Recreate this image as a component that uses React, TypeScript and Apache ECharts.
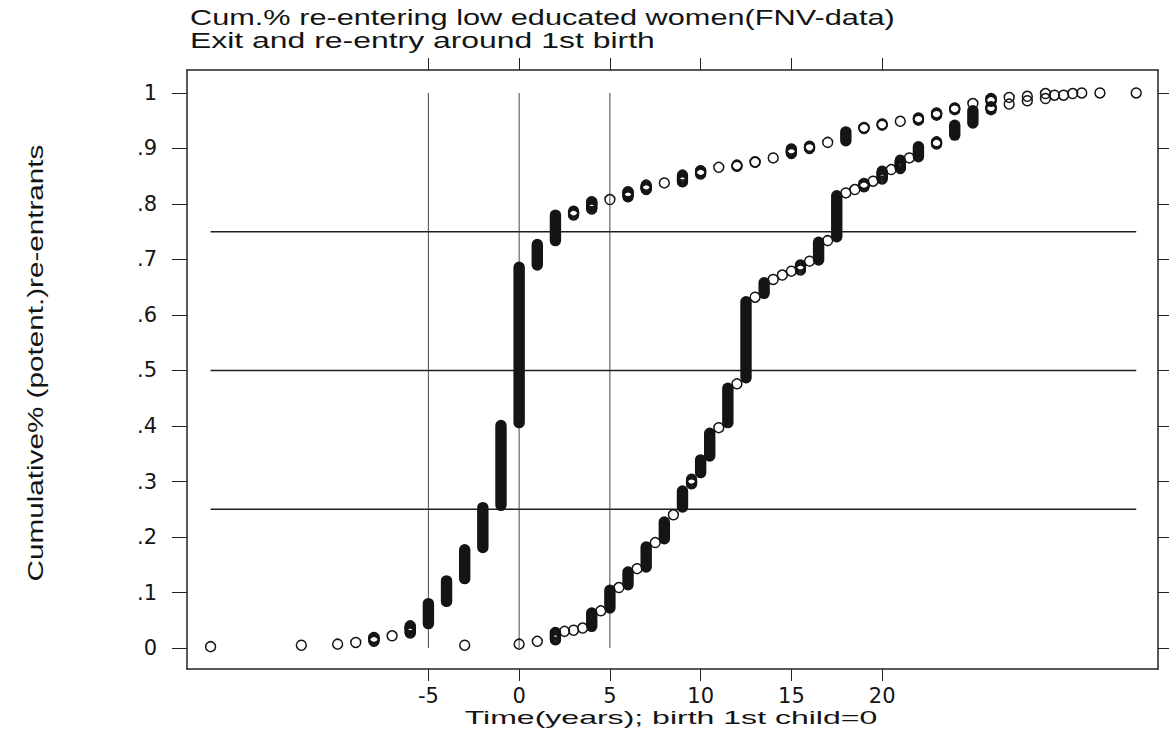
import React, { useEffect, useRef } from "react";
import * as echarts from "echarts";

// Cumulative share by time relative to the first birth.
// Each entry: [years, cum. share of the first case at that time, cum. share of the last case at that time]
const exitStacks: [number, number, number][] = [
  [-17, 0.0025, 0.0025], [-12, 0.005, 0.005], [-10, 0.007, 0.007], [-9, 0.01, 0.01],
  [-8, 0.012, 0.019], [-7, 0.022, 0.022], [-6, 0.027, 0.04], [-5, 0.044, 0.08],
  [-4, 0.084, 0.121], [-3, 0.125, 0.177], [-2, 0.181, 0.253], [-1, 0.257, 0.401],
  [0, 0.406, 0.686], [1, 0.69, 0.727], [2, 0.734, 0.78], [3, 0.78, 0.787],
  [4, 0.791, 0.804], [5, 0.808, 0.808], [6, 0.813, 0.822], [7, 0.826, 0.834],
  [8, 0.838, 0.838], [9, 0.84, 0.852], [10, 0.854, 0.86], [11, 0.866, 0.866],
  [12, 0.868, 0.87], [13, 0.875, 0.876], [14, 0.883, 0.883], [15, 0.891, 0.899],
  [16, 0.9, 0.904], [17, 0.911, 0.911], [18, 0.914, 0.93], [19, 0.936, 0.938],
  [20, 0.942, 0.944], [21, 0.949, 0.949], [22, 0.951, 0.955], [23, 0.96, 0.964],
  [24, 0.97, 0.973], [25, 0.981, 0.981], [26, 0.985, 0.99], [27, 0.992, 0.992],
  [28, 0.994, 0.994], [29, 0.999, 0.999],
];

const reentryStacks: [number, number, number][] = [
  [-3, 0.005, 0.005], [0, 0.007, 0.007], [1, 0.012, 0.012], [2, 0.015, 0.028],
  [2.5, 0.03, 0.03], [3, 0.032, 0.032], [3.5, 0.036, 0.036], [4, 0.039, 0.063],
  [4.5, 0.067, 0.067], [5, 0.072, 0.104], [5.5, 0.109, 0.109], [6, 0.114, 0.137],
  [6.5, 0.143, 0.143], [7, 0.146, 0.182], [7.5, 0.19, 0.19], [8, 0.197, 0.227],
  [8.5, 0.24, 0.24], [9, 0.254, 0.283], [9.5, 0.296, 0.304], [10, 0.316, 0.339],
  [10.5, 0.346, 0.387], [11, 0.397, 0.397], [11.5, 0.406, 0.468], [12, 0.476, 0.476],
  [12.5, 0.487, 0.624], [13, 0.632, 0.632], [13.5, 0.639, 0.658], [14, 0.664, 0.664],
  [14.5, 0.672, 0.672], [15, 0.679, 0.679], [15.5, 0.681, 0.69], [16, 0.697, 0.697],
  [16.5, 0.699, 0.731], [17, 0.734, 0.734], [17.5, 0.741, 0.815], [18, 0.82, 0.82],
  [18.5, 0.826, 0.826], [19, 0.831, 0.837], [19.5, 0.841, 0.841], [20, 0.845, 0.859],
  [20.5, 0.862, 0.862], [21, 0.864, 0.879], [21.5, 0.883, 0.883], [22, 0.885, 0.903],
  [23, 0.908, 0.912], [24, 0.924, 0.942], [25, 0.946, 0.968], [26, 0.97, 0.975],
  [27, 0.98, 0.98], [28, 0.986, 0.986], [29, 0.99, 0.99], [29.5, 0.996, 0.996],
  [30, 0.996, 0.996], [30.5, 0.999, 0.999], [31, 1, 1], [32, 1, 1], [34, 1, 1],
];

// Reference lines
const quartileLevels = [0.25, 0.5, 0.75];
const quartileSpan = [-17, 34];
const markerYears = [-5, 0, 5];
const markerSpan = [0, 1];

// Axis ticks and labels
const xTickValues = [-5, 0, 5, 10, 15, 20];
const yTickValues = [0, 0.1, 0.2, 0.3, 0.4, 0.5, 0.6, 0.7, 0.8, 0.9, 1];
const yTickLabels = ["0", ".1", ".2", ".3", ".4", ".5", ".6", ".7", ".8", ".9", "1"];

const titleLines = [
  "Cum.% re-entering low educated women(FNV-data)",
  "Exit and re-entry around 1st birth",
];
const xTitle = "Time(years); birth 1st child=0";
const yTitle = "Cumulative% (potent.)re-entrants";

const INK = "#141414";
const TEXT_FONT = '"Liberation Sans", Arial, sans-serif';
const TICK_FONT = '"DejaVu Sans", sans-serif';

function textWidth(text: string, font: string): number {
  const ctx = document.createElement("canvas").getContext("2d");
  if (!ctx) return text.length * 10;
  ctx.font = font;
  return ctx.measureText(text).width;
}

// Hollow circle markers: many cases at one time pile up into a solid column.
const OUTER_R = 5.7;
const RING_W = 1.5;
const RING_R = OUTER_R - RING_W / 2;
const INNER_R = OUTER_R - RING_W;

function renderStack(_params: any, api: any) {
  const t = api.value(0);
  const lo = api.value(1);
  const hi = api.value(2);
  const pLo = api.coord([t, lo]);
  const pHi = api.coord([t, hi]);
  const cx = pLo[0];
  const d = pLo[1] - pHi[1];
  const children: any[] = [];
  if (d >= 2 * INNER_R) {
    children.push({
      type: "rect",
      shape: { x: cx - OUTER_R, y: pHi[1] - OUTER_R, width: 2 * OUTER_R, height: d + 2 * OUTER_R, r: OUTER_R },
      style: { fill: INK },
    });
  } else {
    const n = Math.max(1, Math.ceil(d) + 1);
    for (let i = 0; i < n; i++) {
      const cy = n === 1 ? pLo[1] : pLo[1] - (d * i) / (n - 1);
      children.push({
        type: "circle",
        shape: { cx, cy, r: RING_R },
        style: { fill: "none", stroke: INK, lineWidth: RING_W },
      });
    }
  }
  return { type: "group", children };
}

export default function App() {
  const ref = useRef<HTMLDivElement>(null);

  useEffect(() => {
    if (!ref.current) return;
    const chart = echarts.init(ref.current, undefined, { renderer: "svg" });

    const titleFont = `22px ${TEXT_FONT}`;
    const xNameFont = `19px ${TEXT_FONT}`;
    const yNameFont = `22px ${TEXT_FONT}`;
    const title1Scale = 705 / textWidth(titleLines[0], titleFont);
    const title2Scale = 465 / textWidth(titleLines[1], titleFont);
    const xTitleScale = 413 / textWidth(xTitle, xNameFont);
    const yTitleScale = 437 / textWidth(yTitle, yNameFont);

    const axisLineStyle = { color: "#222", width: 1.5 };
    const tickLineStyle = { color: "#222", width: 1 };
    const tickLabel = { fontFamily: TICK_FONT, fontSize: 21, color: INK };
    const xRange = { min: -18.3, max: 35.2 };
    const yRange = { min: -0.0378, max: 1.0414 };

    const refLineSeries: any[] = [
      ...quartileLevels.map((lvl) => ({
        type: "line",
        data: quartileSpan.map((t) => [t, lvl]),
        symbol: "none",
        lineStyle: { color: "#1e1e1e", width: 1.4 },
        z: 1,
        silent: true,
      })),
      ...markerYears.map((t) => ({
        type: "line",
        data: markerSpan.map((v) => [t, v]),
        symbol: "none",
        lineStyle: { color: "#333", width: 0.9 },
        z: 1,
        silent: true,
      })),
    ];

    chart.setOption({
      animation: false,
      backgroundColor: "#ffffff",
      grid: { left: 187, right: 11, top: 70, bottom: 73, containLabel: false },
      xAxis: [
        {
          type: "value",
          ...xRange,
          position: "bottom",
          axisLine: { show: true, onZero: false, lineStyle: axisLineStyle },
          axisTick: { show: true, inside: false, length: 12, customValues: xTickValues, lineStyle: tickLineStyle },
          axisLabel: { show: true, margin: 16, customValues: xTickValues, ...tickLabel },
          splitLine: { show: false },
        },
        {
          type: "value",
          ...xRange,
          position: "top",
          axisLine: { show: true, onZero: false, lineStyle: axisLineStyle },
          axisTick: { show: true, inside: false, length: 12, customValues: xTickValues, lineStyle: tickLineStyle },
          axisLabel: { show: false },
          splitLine: { show: false },
        },
      ],
      yAxis: [
        {
          type: "value",
          ...yRange,
          position: "left",
          axisLine: { show: true, onZero: false, lineStyle: axisLineStyle },
          axisTick: { show: true, inside: false, length: 15, customValues: yTickValues, lineStyle: tickLineStyle },
          axisLabel: {
            show: true,
            margin: 30,
            customValues: yTickValues,
            formatter: (v: number) => {
              const i = yTickValues.findIndex((t) => Math.abs(t - v) < 1e-6);
              return i >= 0 ? yTickLabels[i] : "";
            },
            ...tickLabel,
          },
          splitLine: { show: false },
        },
        {
          type: "value",
          ...yRange,
          position: "right",
          axisLine: { show: true, onZero: false, lineStyle: axisLineStyle },
          axisTick: { show: true, inside: false, length: 12, customValues: yTickValues, lineStyle: tickLineStyle },
          axisLabel: { show: false },
          splitLine: { show: false },
        },
      ],
      series: [
        ...refLineSeries,
        {
          type: "custom",
          name: "exit",
          renderItem: renderStack,
          data: exitStacks,
          encode: { x: 0, y: [1, 2] },
          z: 3,
          clip: false,
        },
        {
          type: "custom",
          name: "re-entry",
          renderItem: renderStack,
          data: reentryStacks,
          encode: { x: 0, y: [1, 2] },
          z: 3,
          clip: false,
        },
      ],
      graphic: [
        {
          type: "text",
          x: 190,
          y: 18,
          scaleX: title1Scale,
          style: { text: titleLines[0], font: titleFont, fill: INK, align: "left", verticalAlign: "middle", textAlign: "left", textVerticalAlign: "middle" },
        },
        {
          type: "text",
          x: 190,
          y: 40,
          scaleX: title2Scale,
          style: { text: titleLines[1], font: titleFont, fill: INK, align: "left", verticalAlign: "middle", textAlign: "left", textVerticalAlign: "middle" },
        },
        {
          type: "text",
          x: 671,
          y: 718,
          scaleX: xTitleScale,
          style: { text: xTitle, font: xNameFont, fill: INK, align: "center", verticalAlign: "middle", textAlign: "center", textVerticalAlign: "middle" },
        },
        {
          type: "text",
          x: 35,
          y: 363,
          rotation: Math.PI / 2,
          scaleX: yTitleScale,
          style: { text: yTitle, font: yNameFont, fill: INK, align: "center", verticalAlign: "middle", textAlign: "center", textVerticalAlign: "middle" },
        },
      ],
    });

    return () => chart.dispose();
  }, []);

  return (
    <div
      ref={ref}
      style={{ position: "absolute", left: 0, top: 0, width: 1169, height: 742, background: "#fff" }}
    />
  );
}
